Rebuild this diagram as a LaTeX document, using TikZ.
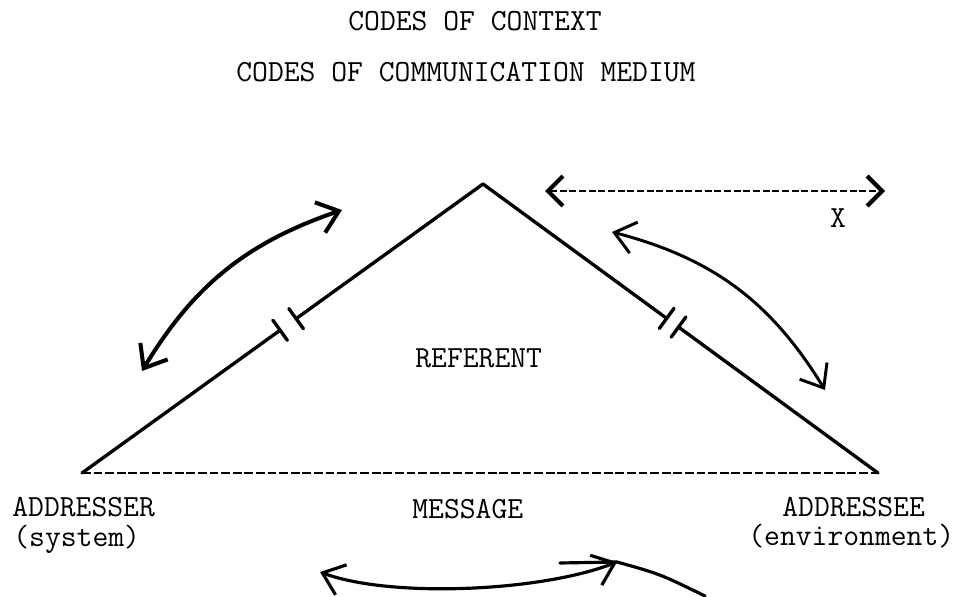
\documentclass[tikz,border=0pt]{standalone}
\usepackage{tikz}
\usetikzlibrary{arrows.meta,calc}

\begin{document}
\begin{tikzpicture}[x=0.02cm,y=0.02cm,
       >={Straight Barb[length=4mm,width=6.4mm]},
       every node/.style={font=\fontsize{17.5}{20}\selectfont\ttfamily,inner sep=0pt},
       side/.style={line width=1.9pt,line cap=round,line join=round},
       base/.style={line width=1.5pt,dash pattern=on 5pt off 1.6pt}]
       \useasboundingbox (0,0) rectangle (961,596);
       % codes
       \node[anchor=base west] (context) at (348,565) {CODES OF CONTEXT};
       \node[anchor=base west] (medium) at (236,514) {CODES OF COMMUNICATION MEDIUM};
       % triangle
       \coordinate (apex) at (483,412);
       \coordinate (sys) at (82,123);
       \coordinate (env) at (878,123);
       \coordinate (lb1) at ($(sys)!0.494!(apex)$);
       \coordinate (lb2) at ($(sys)!0.534!(apex)$);
       \coordinate (rb1) at ($(apex)!0.465!(env)$);
       \coordinate (rb2) at ($(apex)!0.495!(env)$);
       \draw[side] (sys) -- (lb1) (lb2) -- (apex) -- (rb1) (rb2) -- (env);
       \draw[base] (sys) -- (env);
       \foreach \p/\q in {lb1/apex,lb2/apex,rb1/env,rb2/env}
          \draw[side] ($(\p)!0.25cm!90:(\q)$) -- ($(\p)!0.25cm!-90:(\q)$);
       % labels
       \node[anchor=base west] (referent) at (415,229) {REFERENT};
       \node[anchor=base west] (message) at (412,78) {MESSAGE};
       \node[anchor=base west] (addresser) at (12,80) {ADDRESSER};
       \node[anchor=base west] (system) at (13,50) {(system)};
       \node[anchor=base west] (addressee) at (782,80) {ADDRESSEE};
       \node[anchor=base west] (environment) at (748,51) {(environment)};
       % arrows
       \coordinate (l1) at (142,225);
       \coordinate (l2) at (342,386);
       \draw[<->,line width=2.3pt] (l1) to[bend left=20] (l2);
       \coordinate (r1) at (612,364);
       \coordinate (r2) at (825,206);
       \draw[<->,line width=1.7pt] (r1) to[bend left=22] (r2);
       \coordinate (xl) at (545,405);
       \coordinate (xr) at (885,405);
       \draw[{<[length=3mm,width=6mm,line width=2.4pt]}-{>[length=3mm,width=6mm,line width=2.4pt]},
             line width=1.1pt,dash pattern=on 4pt off 1.5pt] (xl) -- (xr);
       \node (x) at (838,378) {X};
       \coordinate (ml) at (320,24);
       \coordinate (mr) at (617,34);
       \coordinate (hook) at (705,0);
       \draw[<->,line width=1.8pt] (ml) .. controls (390,-2) and (540,4) .. (mr);
       \draw[line width=1.8pt,line cap=round] (560,33) -- (mr) .. controls (660,22) .. (hook);
\end{tikzpicture}
\end{document}
